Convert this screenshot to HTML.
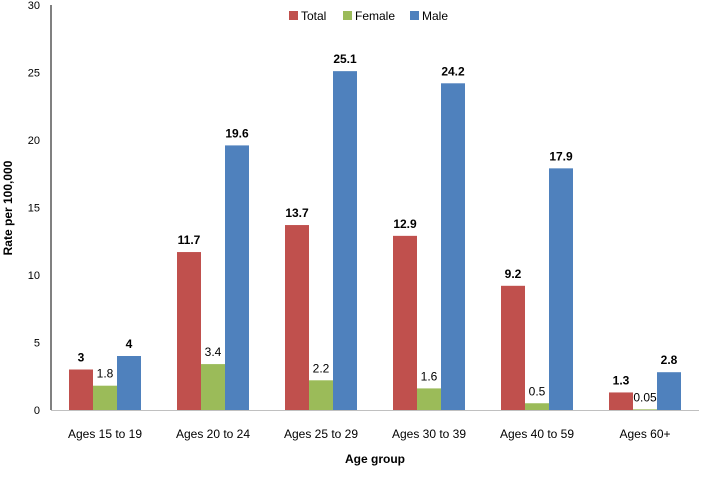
<!DOCTYPE html>
<html><head><meta charset="utf-8"><style>
body{margin:0;background:#fff;}
svg text{font-family:"Liberation Sans",sans-serif;}
</style></head><body>
<svg id="c" width="704" height="472" xmlns="http://www.w3.org/2000/svg"></svg>
<script>
const categories=["Ages 15 to 19","Ages 20 to 24","Ages 25 to 29","Ages 30 to 39","Ages 40 to 59","Ages 60+"];
const totalVals=[3,11.7,13.7,12.9,9.2,1.3];
const femaleVals=[1.8,3.4,2.2,1.6,0.5,0.05];
const maleVals=[4,19.6,25.1,24.2,17.9,2.8];
const totalLabels=["3","11.7","13.7","12.9","9.2","1.3"];
const femaleLabels=["1.8","3.4","2.2","1.6","0.5","0.05"];
const maleLabels=["4","19.6","25.1","24.2","17.9","2.8"];
const yTicks=[0,5,10,15,20,25,30];
const seriesNames=["Total","Female","Male"];
const colors=["#c0504d","#9bbb59","#4f81bd"];
const svg=document.getElementById('c');
const NS="http://www.w3.org/2000/svg";
const x0=51,x1=699,y0=410,yTop=5,ymax=30;
const gw=(x1-x0)/categories.length,bw=24;
const y=v=>y0-(v/ymax)*(y0-yTop);
function mk(t,a,txt){const e=document.createElementNS(NS,t);for(const k in a)e.setAttribute(k,a[k]);if(txt!==undefined)e.textContent=txt;svg.appendChild(e);return e;}
yTicks.forEach(t=>{const e=mk('text',{x:40,y:y(t)+4,'text-anchor':'end','font-size':11,fill:'#000'},t);

});
let ax=mk('line',{x1:x0,y1:yTop,x2:x0,y2:y0,stroke:'#000','stroke-width':1});


let bx=mk('line',{x1:x0,y1:y0+.5,x2:x1,y2:y0+.5,stroke:'#c0c0c0','stroke-width':1});


const series=[totalVals,femaleVals,maleVals],labs=[totalLabels,femaleLabels,maleLabels];
categories.forEach((c,i)=>{
 const cx=x0+gw*(i+0.5);
 series.forEach((s,j)=>{
  const bxp=cx-1.5*bw+j*bw;
  const r=mk('rect',{x:bxp,y:y(s[i]),width:bw,height:y0-y(s[i]),fill:colors[j]});
  
  
  const l=mk('text',{x:bxp+bw/2,y:y(s[i])-8,'text-anchor':'middle','font-size':12,'font-weight':j==1?'normal':'bold',fill:'#000'},labs[j][i]);
  
  
 });
 const t=mk('text',{x:cx,y:438,'text-anchor':'middle','font-size':12,fill:'#000'},c);
 
 
});
let xt=mk('text',{x:375,y:463,'text-anchor':'middle','font-size':12,'font-weight':'bold'},'Age group');


let yt=mk('text',{x:0,y:0,'text-anchor':'middle','font-size':12,'font-weight':'bold',transform:'translate(12,208) rotate(-90)'},'Rate per 100,000');


const lx=[289,343,410];
seriesNames.forEach((n,j)=>{
 const r=mk('rect',{x:lx[j],y:11,width:9,height:9,fill:colors[j]});
 
 
 const t=mk('text',{x:lx[j]+12,y:20,'font-size':12},n);
 
 
});
</script>
</body></html>
